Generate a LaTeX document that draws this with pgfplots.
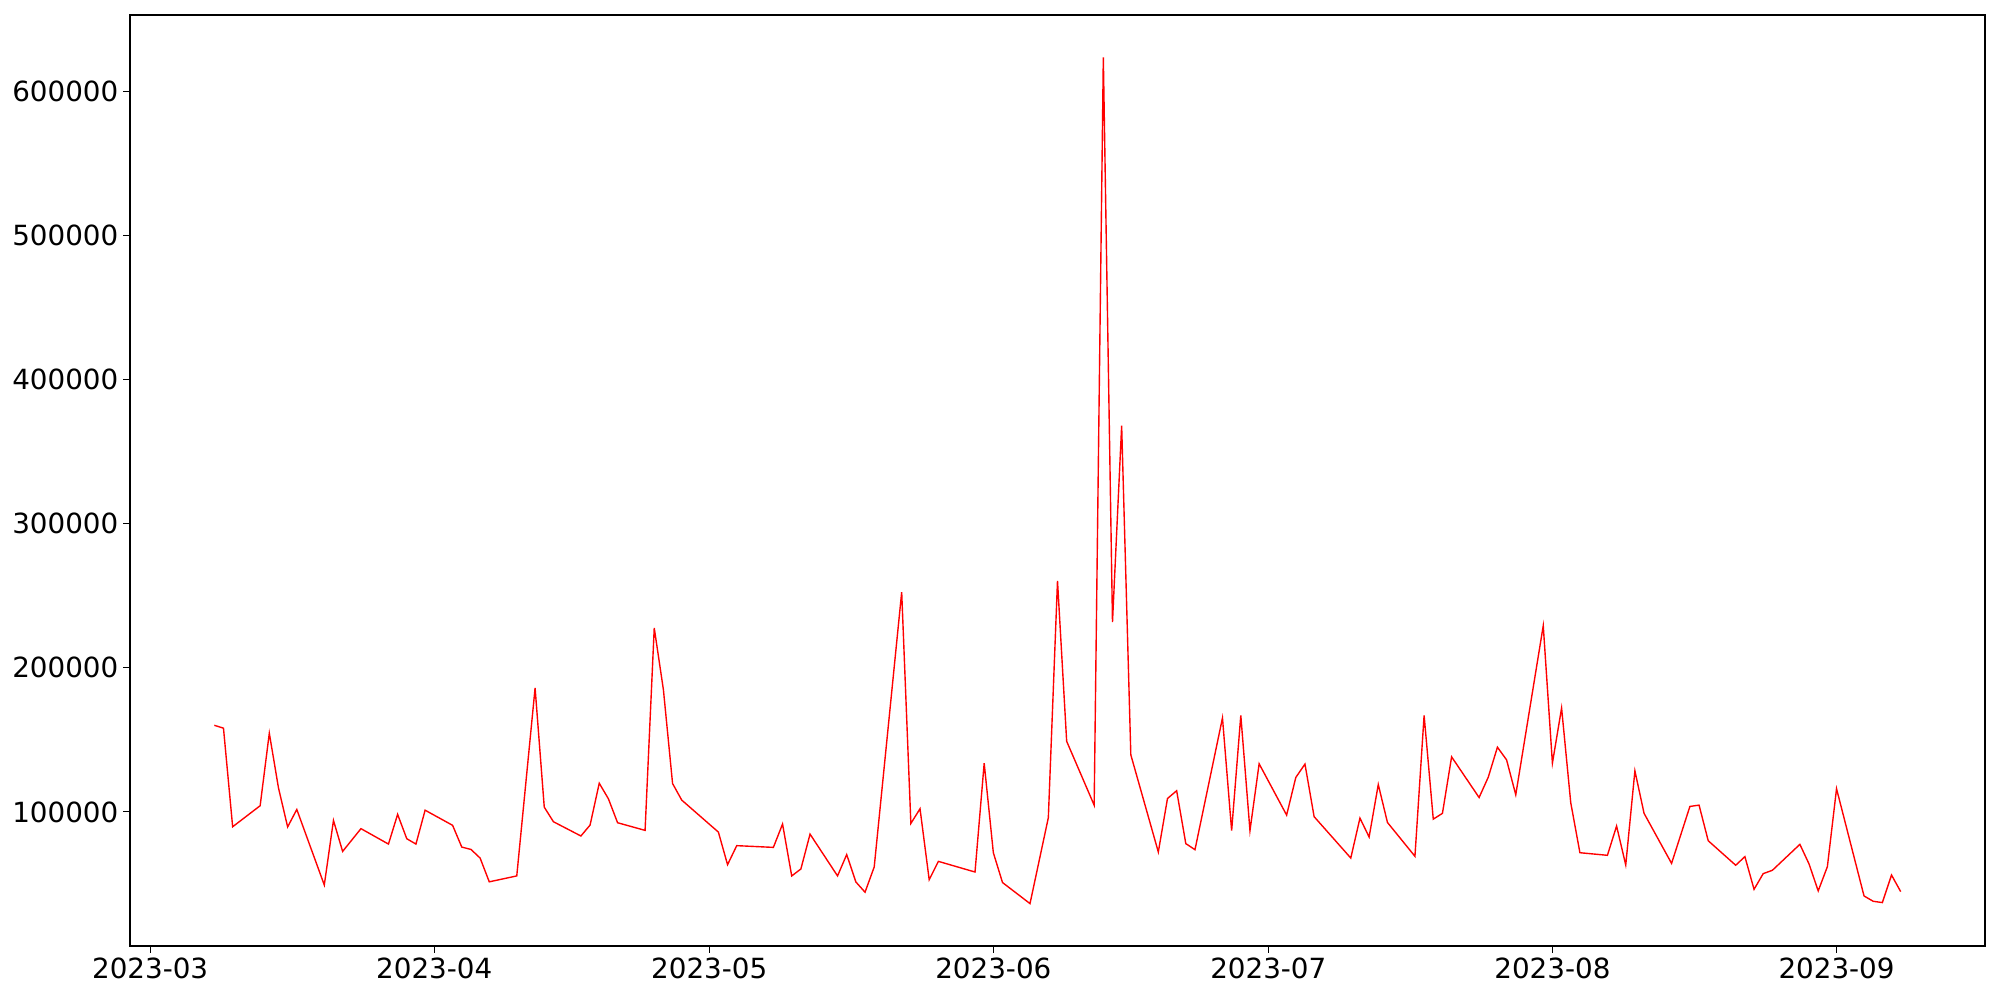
\documentclass[border=0pt]{standalone}
\usepackage{pgfplots}
\pgfplotsset{compat=1.18}
\usepackage{pgfplotstable}
\usepackage{fontspec}
\setmainfont{DejaVu Sans}
\pgfplotstableread{
day value
7 160100
8 158100
9 89700
12 104300
13 154600
14 116700
15 89600
16 101700
19 49300
20 94100
21 72600
23 88400
26 77700
27 98300
28 81400
29 77700
30 101200
33 90700
34 75600
35 74000
36 68000
37 51500
40 55600
42 186000
43 103300
44 93200
47 83300
48 90900
49 119900
50 109100
51 92500
54 87200
55 227600
56 184800
57 119700
58 108200
62 86000
63 63400
64 76600
68 75400
69 91600
70 55600
71 60400
72 84600
75 55600
76 70400
77 51400
78 44300
79 61800
82 252500
83 92000
84 102200
85 53000
86 65700
90 58300
91 133800
92 71700
93 51000
96 36400
98 96000
99 260300
100 149000
103 104700
104 623500
105 231700
106 368000
107 139600
110 72200
111 109300
112 114700
113 78000
114 73800
117 165200
118 87000
119 167000
120 87000
121 133400
124 97800
125 123900
126 133200
127 96700
131 68000
132 95700
133 82600
134 119000
135 92700
138 69200
139 167000
140 95000
141 99000
142 138200
145 110000
146 124100
147 144900
148 136100
149 111900
152 229200
153 133800
154 172100
155 106400
156 71700
159 69900
160 90200
161 63200
162 128500
163 99000
166 64300
168 103800
169 104700
170 80000
173 63000
174 69000
175 46300
176 57200
177 59500
180 77500
181 63900
182 45200
183 62000
184 116100
187 41700
188 38000
189 37100
190 56200
191 44700
}\datatable
\begin{document}
\begin{tikzpicture}
\useasboundingbox (-93.6bp,-38.9bp) rectangle (1346.4bp,681.1bp);
\begin{axis}[
  at={(0,0)}, anchor=south west,
  scale only axis,
  width=1335.6bp, height=670.3bp,
  xmin=-2.2, xmax=200.2,
  ymin=7000, ymax=652900,
  xtick={0,31,61,92,122,153,184},
  xticklabels={2023-03,2023-04,2023-05,2023-06,2023-07,2023-08,2023-09},
  ytick={100000,200000,300000,400000,500000,600000},
  scaled y ticks=false,
  yticklabel style={/pgf/number format/.cd, fixed, 1000 sep={}, assume math mode=true},
  tick label style={font=\fontsize{20bp}{24bp}\selectfont},
  tick align=outside,
  xtick pos=bottom, ytick pos=left,
  major tick length=4.9bp,
  every tick/.style={black, line width=0.8bp},
  axis line style={black, line width=0.8bp},
  minor tick num=0,
]
\addplot[red, line width=1bp, mark=none] table[x=day, y=value] {\datatable};
\end{axis}
\end{tikzpicture}
\end{document}
